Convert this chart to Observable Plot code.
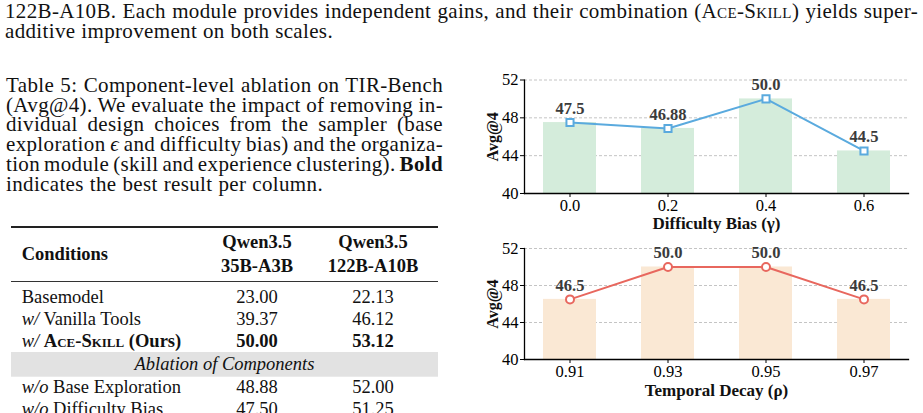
<!DOCTYPE html>
<html>
<head>
<meta charset="utf-8">
<script src="https://cdn.jsdelivr.net/npm/d3@7"></script>
<script src="https://cdn.jsdelivr.net/npm/@observablehq/plot@0.6"></script>
<style>
  html, body { margin: 0; padding: 0; background: #fff; }
  #root { position: relative; width: 923px; height: 413px; overflow: hidden; background: #fff; }
  #page { position: absolute; left: 0; top: 0; }
  .chart { position: absolute; }
  .chart svg, .chart svg text { font-family: 'Liberation Serif', 'Times New Roman', serif !important; }
</style>
</head>
<body>
<div id="root">
  <svg id="page" width="923" height="413"></svg>
  <div class="chart" id="c1" style="left:470px; top:70px;"></div>
  <div class="chart" id="c2" style="left:470px; top:236px;"></div>
</div>
<script>
// ---------------- data ----------------
const biasLevels = ["0.0", "0.2", "0.4", "0.6"];
const biasAvg = [47.5, 46.88, 50.0, 44.5];
const decayLevels = ["0.91", "0.93", "0.95", "0.97"];
const decayAvg = [46.5, 50.0, 50.0, 46.5];
const yDomain = [40, 52];
const yTicks = [40, 44, 48, 52];
const yLabel = "Avg@4";

const tableConditions = ["Basemodel", "w/ Vanilla Tools", "w/ Ace-Skill (Ours)", "w/o Base Exploration", "w/o Difficulty Bias"];
const tableQwen35B = [23.00, 39.37, 50.00, 48.88, 47.50];
const tableQwen122B = [22.13, 46.12, 53.12, 52.00, 51.25];

// ---------------- page text (SVG) ----------------
const SERIF = "'Liberation Serif', 'Times New Roman', serif";
const page = d3.select("#page");

function textLine(x, y, parts, opts = {}) {
  const t = page.append("text")
    .attr("x", x).attr("y", y)
    .style("font-family", SERIF)
    .attr("font-size", opts.size || 21)
    .attr("fill", "#111")
    .attr("text-anchor", opts.anchor || "start");
  if (opts.ls) t.attr("letter-spacing", opts.ls);
  for (const p of parts) {
    const [str, st] = typeof p === "string" ? [p, {}] : p;
    const ts = t.append("tspan").text(str);
    if (st.italic) ts.attr("font-style", "italic");
    if (st.bold) ts.attr("font-weight", "bold");
    if (st.sc) ts.style("font-variant", "small-caps");
  }
  if (opts.width) {
    const full = parts.map(p => typeof p === "string" ? p : p[0]).join("");
    const spaces = (full.match(/ /g) || []).length;
    const natural = t.node().getComputedTextLength();
    if (spaces) t.attr("word-spacing", (opts.width - natural) / spaces);
  }
  return t;
}

// body text
const LS = 0.35;
textLine(5, 17.5, ["122B-A10B. Each module provides independent gains, and their combination (", ["Ace-Skill", {sc: true}], ") yields super-"], {width: 913, ls: LS});
textLine(5, 37.5, ["additive improvement on both scales."], {width: 328, ls: LS});

// caption
const capY0 = 91.7, capDy = 19.8;
textLine(6, capY0, ["Table 5: Component-level ablation on TIR-Bench"], {width: 437, ls: LS});
textLine(6, capY0 + capDy, ["(Avg@4). We evaluate the impact of removing in-"], {width: 437, ls: LS});
textLine(6, capY0 + 2 * capDy, ["dividual design choices from the sampler (base"], {width: 437, ls: LS});
textLine(6, capY0 + 3 * capDy, ["exploration ", ["ϵ", {italic: true}], " and difficulty bias) and the organiza-"], {width: 437, ls: LS});
textLine(6, capY0 + 4 * capDy, ["tion module (skill and experience clustering). ", ["Bold", {bold: true}]], {width: 437, ls: LS});
textLine(6, capY0 + 5 * capDy, ["indicates the best result per column."], {width: 317, ls: LS});

// table
const TX0 = 11, TX1 = 438, COL1 = 257, COL2 = 373, TLEFT = 21.7, TS = 18.5;
page.append("line").attr("x1", TX0).attr("x2", TX1).attr("y1", 227).attr("y2", 227).attr("stroke", "#222").attr("stroke-width", 2);
page.append("line").attr("x1", TX0).attr("x2", TX1).attr("y1", 281.5).attr("y2", 281.5).attr("stroke", "#333").attr("stroke-width", 1.2);
page.append("rect").attr("x", TX0).attr("y", 352).attr("width", TX1 - TX0).attr("height", 24.7).attr("fill", "#e2e2e2");

textLine(TLEFT, 260, [["Conditions", {bold: true}]], {size: TS});
textLine(COL1, 248, [["Qwen3.5", {bold: true}]], {size: TS, anchor: "middle"});
textLine(COL1, 272, [["35B-A3B", {bold: true}]], {size: TS, anchor: "middle"});
textLine(COL2, 248, [["Qwen3.5", {bold: true}]], {size: TS, anchor: "middle"});
textLine(COL2, 272, [["122B-A10B", {bold: true}]], {size: TS, anchor: "middle"});

const rowY = [302.7, 325.3, 347.3, 392.7, 415.2];
tableConditions.forEach((c, i) => {
  const best = i === 2;
  let parts;
  const m = c.match(/^(w\/o?)\s(.*)$/);
  if (m) {
    if (best) {
      parts = [[m[1], {italic: true}], " ", ["Ace-Skill", {bold: true, sc: true}], [" (Ours)", {bold: true}]];
    } else {
      parts = [[m[1], {italic: true}], " " + m[2]];
    }
  } else parts = [c];
  textLine(TLEFT, rowY[i], parts, {size: TS});
  textLine(COL1, rowY[i], [[tableQwen35B[i].toFixed(2), {bold: best}]], {size: TS, anchor: "middle"});
  textLine(COL2, rowY[i], [[tableQwen122B[i].toFixed(2), {bold: best}]], {size: TS, anchor: "middle"});
});
textLine((TX0 + TX1) / 2, 369.5, [["Ablation of Components", {italic: true}]], {size: TS, anchor: "middle"});

// ---------------- charts (Observable Plot) ----------------
const fmt = v => Number.isInteger(v) ? v.toFixed(1) : String(v);

function sweepChart({levels, values, xLabelParts, barFill, lineColor, symbol, r, height, marginTop, marginBottom, labelDy}) {
  const data = levels.map((x, i) => ({x, v: values[i]}));
  const plot = Plot.plot({
    width: 450,
    height,
    marginLeft: 54,
    marginRight: 12,
    marginTop,
    marginBottom,
    style: `font-family: ${SERIF}; font-size: 16.5px; color: #000; background: transparent; overflow: visible;`,
    x: {type: "band", domain: levels, paddingInner: 0.46, paddingOuter: 0.18, label: null},
    y: {domain: yDomain, label: null},
    marks: [
      Plot.gridY(yTicks.slice(1), {stroke: "#c4c4c4", strokeOpacity: 1, strokeDasharray: "3,2", strokeWidth: 1}),
      Plot.barY(data, {x: "x", y1: yDomain[0], y2: "v", fill: barFill}),
      Plot.line(data, {x: "x", y: "v", stroke: lineColor, strokeWidth: 2}),
      Plot.dot(data, {x: "x", y: "v", symbol, r, fill: "white", stroke: lineColor, strokeWidth: 2}),
      Plot.text(data, {x: "x", y: "v", text: d => fmt(d.v), dy: -14, fontWeight: "bold", fill: "#3b3b3b", fontSize: 16.5, fontFamily: SERIF}),
      Plot.axisY({ticks: yTicks, tickSize: 4, tickPadding: 2, tickFormat: d => String(d), fontSize: 16.5, fontFamily: SERIF}),
      Plot.axisX({tickSize: 4, tickPadding: 2, fontSize: 16.5, fontFamily: SERIF}),
      Plot.frame({anchor: "left", stroke: "#000", strokeWidth: 1.3}),
      Plot.frame({anchor: "bottom", stroke: "#000", strokeWidth: 1.3}),
      Plot.text([yLabel], {frameAnchor: "left", rotate: -90, dx: -32, textAnchor: "middle", lineAnchor: "middle", fontWeight: "bold", fontSize: 16, fill: "#111", fontFamily: SERIF}),
      Plot.text([xLabelParts.join("")], {frameAnchor: "bottom", dy: labelDy, textAnchor: "middle", lineAnchor: "middle", fontWeight: "bold", fontSize: 17, fill: "#111", fontFamily: SERIF, ariaLabel: "xlabel"})
    ]
  });
  // italic Greek symbol inside the x-axis title
  const t = plot.querySelector('g[aria-label="xlabel"] text');
  if (t) {
    t.textContent = "";
    const NS = "http://www.w3.org/2000/svg";
    const a = document.createTextNode(xLabelParts[0]);
    const g = document.createElementNS(NS, "tspan");
    g.setAttribute("font-style", "italic");
    g.setAttribute("font-weight", "normal");
    g.textContent = xLabelParts[1];
    const b = document.createTextNode(xLabelParts[2]);
    t.append(a, g, b);
  }
  return plot;
}

document.getElementById("c1").append(sweepChart({
  levels: biasLevels, values: biasAvg,
  xLabelParts: ["Difficulty Bias (", "γ", ")"],
  barFill: "#d4ecdb", lineColor: "#5aaade", symbol: "square", r: 4,
  height: 163, marginTop: 9.5, marginBottom: 40, labelDy: 30
}));
document.getElementById("c2").append(sweepChart({
  levels: decayLevels, values: decayAvg,
  xLabelParts: ["Temporal Decay (", "ρ", ")"],
  barFill: "#fae8d4", lineColor: "#e8675e", symbol: "circle", r: 4,
  height: 177, marginTop: 12, marginBottom: 54, labelDy: 31
}));
</script>
</body>
</html>
